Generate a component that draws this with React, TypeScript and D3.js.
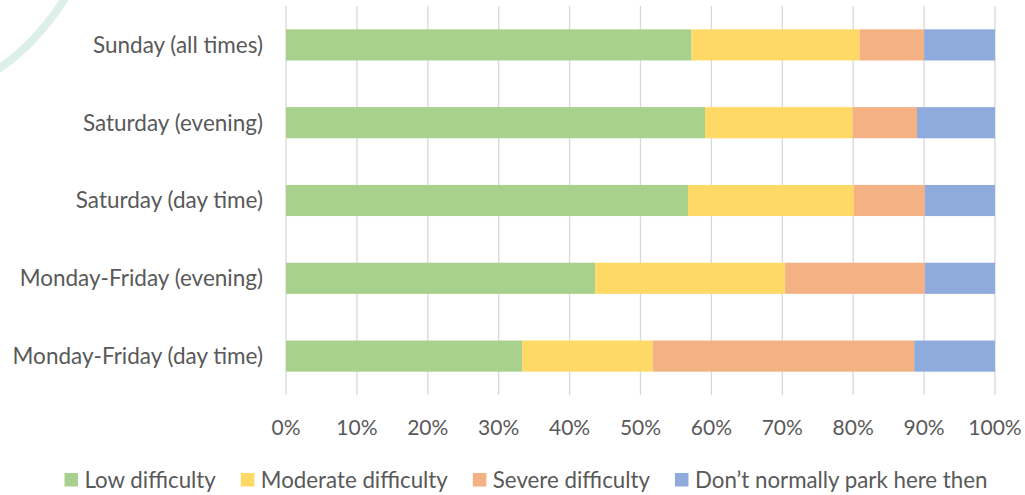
import React, { useEffect, useRef } from "react";
import * as d3 from "d3";

const categories = [
  "Sunday (all times)",
  "Saturday (evening)",
  "Saturday (day time)",
  "Monday-Friday (evening)",
  "Monday-Friday (day time)",
];
const seriesNames = [
  "Low difficulty",
  "Moderate difficulty",
  "Severe difficulty",
  "Don\u2019t normally park here then",
];
const lowDifficulty = [57.2, 59.1, 56.7, 43.6, 33.3];
const moderateDifficulty = [23.7, 20.8, 23.4, 26.8, 18.4];
const severeDifficulty = [9.1, 9.1, 10.0, 19.7, 36.9];
const dontPark = [10.0, 11.0, 9.9, 9.9, 11.4];
const xTicks = [0, 10, 20, 30, 40, 50, 60, 70, 80, 90, 100];
const colors = ["#A9D18E", "#FFD966", "#F4B183", "#8FAADC"];

const W = 1025;
const H = 495;
const FONT = "Lato, 'Open Sans', sans-serif";

export default function App() {
  const ref = useRef<SVGSVGElement | null>(null);

  useEffect(() => {
    const svg = d3.select(ref.current);
    svg.selectAll("*").remove();

    const x = d3.scaleLinear().domain([0, 100]).range([286, 995]);
    const y = d3
      .scaleBand<string>()
      .domain(categories)
      .range([6, 395])
      .paddingInner(0.6)
      .paddingOuter(0.3);

    // faint watermark arc
    svg
      .append("path")
      .attr("d", "M 66 -3 Q 36 44 -3 70")
      .attr("fill", "none")
      .attr("stroke", "#d7ece7")
      .attr("stroke-width", 8)
      .attr("opacity", 0.85);

    // gridlines
    svg
      .append("g")
      .selectAll("line")
      .data(xTicks)
      .join("line")
      .attr("x1", (d) => x(d))
      .attr("x2", (d) => x(d))
      .attr("y1", 6)
      .attr("y2", 395)
      .attr("stroke", "#D9D9D9")
      .attr("stroke-width", 1.3);

    const series = [lowDifficulty, moderateDifficulty, severeDifficulty, dontPark];
    const rows = categories.map((c, i) => {
      const o: any = { cat: c };
      seriesNames.forEach((s, j) => (o[s] = series[j][i]));
      return o;
    });
    const stacked = d3.stack<any>().keys(seriesNames)(rows);

    svg
      .append("g")
      .selectAll("g")
      .data(stacked)
      .join("g")
      .attr("fill", (_d, i) => colors[i])
      .selectAll("rect")
      .data((d) => d)
      .join("rect")
      .attr("x", (d) => x(d[0]))
      .attr("width", (d) => x(Math.min(100, d[1])) - x(d[0]))
      .attr("y", (d) => y(d.data.cat)!)
      .attr("height", y.bandwidth());

    // category labels
    svg
      .append("g")
      .selectAll("text")
      .data(categories)
      .join("text")
      .attr("x", 263)
      .attr("y", (d) => y(d)! + y.bandwidth() / 2)
      .attr("dy", "0.35em")
      .attr("text-anchor", "end")
      .attr("font-family", FONT)
      .attr("font-size", 22.5)
      .attr("fill", "#595959")
      .text((d) => d);

    // x tick labels
    svg
      .append("g")
      .selectAll("text")
      .data(xTicks)
      .join("text")
      .attr("x", (d) => x(d))
      .attr("y", 428)
      .attr("dy", "0.35em")
      .attr("text-anchor", "middle")
      .attr("font-family", FONT)
      .attr("font-size", 21)
      .attr("fill", "#595959")
      .text((d) => d + "%");

    // legend
    const lg = svg.append("g");
    const items = lg.selectAll("g").data(seriesNames).join("g");
    items
      .append("rect")
      .attr("width", 13.5)
      .attr("height", 13.5)
      .attr("y", 473)
      .attr("fill", (_d, i) => colors[i]);
    items
      .append("text")
      .attr("x", 20)
      .attr("y", 480)
      .attr("dy", "0.35em")
      .attr("font-family", FONT)
      .attr("font-size", 22.3)
      .attr("fill", "#595959")
      .text((d) => d);
    const widths: number[] = [];
    items.each(function () {
      const t = d3.select(this).select("text").node() as SVGTextElement;
      widths.push(20 + t.getComputedTextLength());
    });
    const gap = 25;
    const total = d3.sum(widths) + gap * (widths.length - 1);
    let cx = 526 - total / 2;
    items.attr("transform", (_d, i) => {
      const tx = cx;
      cx += widths[i] + gap;
      return `translate(${tx},0)`;
    });
  }, []);

  return (
    <svg
      ref={ref}
      width={W}
      height={H}
      style={{ display: "block", position: "absolute", left: 0, top: 0, background: "#fff" }}
    />
  );
}
